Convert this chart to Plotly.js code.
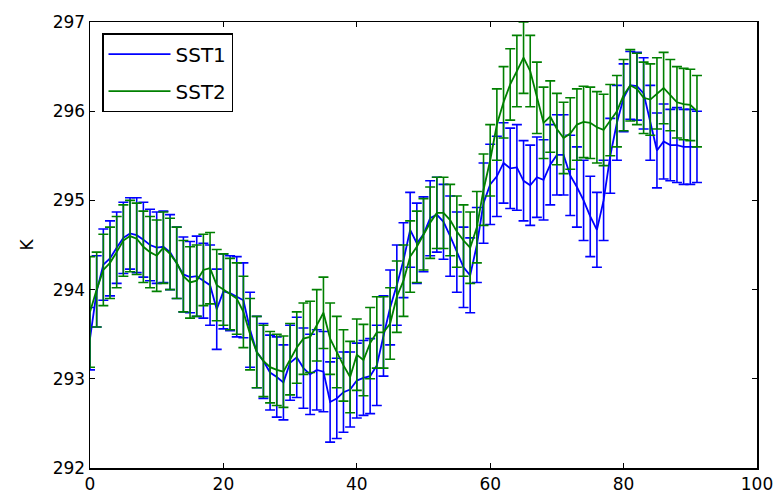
<!DOCTYPE html>
<html>
<head>
<meta charset="utf-8">
<script src="https://cdn.plot.ly/plotly-3.0.1.min.js"></script>
<style>body{margin:0;background:#fff;}#chart{width:781px;height:496px;}</style>
</head>
<body>
<div id="chart"></div>
<script>
const xs = [];
for (let i = 0; i <= 91; i++) xs.push(i);

const sst1 = [293.45,293.98,294.28,294.35,294.47,294.58,294.63,294.61,294.56,294.5,
294.47,294.48,294.42,294.3,294.17,294.14,294.15,294.1,294.05,293.78,
293.98,293.96,293.92,293.88,293.55,293.3,293.2,293.07,293.02,292.96,
293.18,293.24,293.12,293.05,293.1,293.08,292.74,292.78,292.85,292.88,
292.98,293.01,293.03,293.15,293.48,293.8,294.05,294.33,294.67,294.52,
294.62,294.8,294.84,294.76,294.6,294.42,294.25,294.16,294.5,294.97,
295.18,295.27,295.42,295.36,295.37,295.22,295.17,295.26,295.23,295.4,
295.51,295.51,295.28,295.15,295.0,294.82,294.67,295.0,295.5,295.87,
296.15,296.29,296.28,296.2,295.87,295.56,295.66,295.62,295.62,295.6,
295.6,295.6];

const err1 = [0.35,0.4,0.4,0.42,0.4,0.4,0.4,0.42,0.42,0.4,
0.4,0.4,0.42,0.4,0.42,0.4,0.45,0.42,0.45,0.45,
0.42,0.42,0.45,0.42,0.42,0.4,0.42,0.42,0.45,0.42,
0.42,0.45,0.45,0.45,0.45,0.45,0.45,0.45,0.45,0.42,
0.42,0.42,0.42,0.45,0.45,0.42,0.45,0.42,0.42,0.45,
0.42,0.42,0.42,0.42,0.45,0.45,0.45,0.42,0.42,0.45,
0.45,0.45,0.45,0.45,0.48,0.45,0.45,0.45,0.45,0.45,
0.45,0.45,0.45,0.45,0.45,0.45,0.42,0.45,0.42,0.42,
0.38,0.38,0.38,0.4,0.42,0.42,0.42,0.4,0.42,0.42,
0.42,0.4];

const sst2 = [293.75,294.0,294.22,294.3,294.42,294.55,294.6,294.57,294.48,294.42,
294.38,294.47,294.4,294.3,294.15,294.08,294.1,294.22,294.24,294.05,
294.0,293.95,293.9,293.75,293.5,293.3,293.2,293.13,293.1,293.08,
293.22,293.35,293.45,293.47,293.6,293.74,293.45,293.3,293.15,293.02,
293.27,293.21,293.4,293.52,293.52,293.62,293.92,294.1,294.37,294.48,
294.62,294.75,294.86,294.86,294.78,294.65,294.55,294.47,294.7,295.12,
295.45,295.85,296.1,296.3,296.45,296.6,296.45,296.15,295.87,295.94,
295.8,295.7,295.75,295.85,295.88,295.87,295.82,295.79,295.9,296.0,
296.18,296.29,296.25,296.15,296.13,296.2,296.26,296.18,296.1,296.08,
296.07,296.0];

const err2 = [0.62,0.42,0.4,0.4,0.4,0.4,0.4,0.4,0.4,0.4,
0.4,0.4,0.4,0.4,0.4,0.4,0.4,0.4,0.4,0.4,
0.4,0.4,0.4,0.4,0.4,0.4,0.4,0.4,0.4,0.4,
0.4,0.4,0.4,0.4,0.4,0.4,0.4,0.4,0.4,0.4,
0.4,0.4,0.4,0.4,0.4,0.4,0.4,0.4,0.4,0.4,
0.4,0.4,0.4,0.4,0.4,0.4,0.4,0.4,0.4,0.4,
0.4,0.4,0.4,0.4,0.4,0.4,0.4,0.4,0.4,0.4,
0.4,0.4,0.4,0.4,0.4,0.4,0.4,0.4,0.4,0.4,
0.4,0.4,0.4,0.4,0.4,0.4,0.4,0.4,0.4,0.4,
0.4,0.4];

const seriesNames = ['SST1','SST2'];
const yTicks = [292,293,294,295,296,297];
const xTicks = [0,20,40,60,80,100];

const traces = [
  {x: xs, y: sst1, name: seriesNames[0], legendgroup: 'g1', type: 'scatter', mode: 'lines',
   line: {color: '#0000ff', width: 1.8},
   error_y: {type: 'data', array: err1, visible: true, color: '#0000ff', thickness: 1.6, width: 5}},
  {x: xs, y: sst2, name: seriesNames[1], legendgroup: 'g2', type: 'scatter', mode: 'lines',
   line: {color: '#008000', width: 1.8},
   error_y: {type: 'data', array: err2, visible: true, color: '#008000', thickness: 1.6, width: 5}}
];

const axisCommon = {
  showline: true, linecolor: '#000', linewidth: 1.5, mirror: 'ticks',
  ticks: 'inside', ticklen: 5, tickcolor: '#000', tickwidth: 1,
  showgrid: false, zeroline: false,
  tickfont: {family: 'DejaVu Sans', size: 17, color: '#000'}
};

const layout = {
  width: 781, height: 496,
  margin: {l: 90, r: 24, t: 22, b: 28},
  paper_bgcolor: '#fff', plot_bgcolor: '#fff',
  showlegend: true,
  legend: {x: 0.018, y: 0.975, xanchor: 'left', yanchor: 'top',
    bordercolor: '#000', borderwidth: 1.5, bgcolor: '#fff',
    itemwidth: 62, tracegroupgap: 8,
    font: {family: 'DejaVu Sans', size: 20, color: '#000'}},
  xaxis: Object.assign({}, axisCommon, {range: [0, 100], tickvals: xTicks, ticktext: xTicks.map(String)}),
  yaxis: Object.assign({}, axisCommon, {range: [292, 297], tickvals: yTicks, ticktext: yTicks.map(String),
    title: {text: 'K', font: {family: 'DejaVu Sans', size: 17, color: '#000'}, standoff: 14}})
};

Plotly.newPlot('chart', traces, layout, {displayModeBar: false, staticPlot: true});
</script>
</body>
</html>
